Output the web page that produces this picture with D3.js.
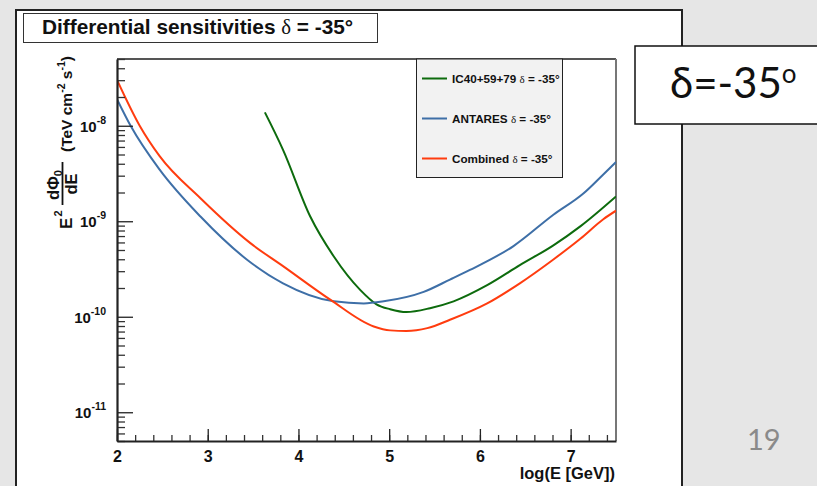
<!DOCTYPE html>
<html><head><meta charset="utf-8">
<script src="https://cdn.jsdelivr.net/npm/d3@7"></script>
<style>html,body{margin:0;padding:0;background:#e6e6e6;} svg{display:block}</style>
</head><body>
<svg id="c" width="817" height="486"></svg>
<script>
// ---- data ----
const titleText = "Differential sensitivities";
const seriesNames = ["IC40+59+79", "ANTARES", "Combined"];
const xTickLabels = [2, 3, 4, 5, 6, 7];
const yDecades = [-8, -9, -10, -11];

const icE = [3.63, 3.83, 4.13, 4.39, 4.68, 4.86, 5.01, 5.19, 5.45, 5.71, 6.08, 6.44, 6.81, 7.11, 7.50];
const icFlux = [1.38e-8, 5.6e-9, 1.12e-9, 4.27e-10, 1.91e-10, 1.35e-10, 1.2e-10, 1.12e-10, 1.23e-10, 1.45e-10, 2.14e-10, 3.47e-10, 5.6e-10, 8.9e-10, 1.82e-9];

const antE = [2.00, 2.15, 2.47, 2.92, 3.43, 3.83, 4.39, 4.72, 4.94, 5.38, 5.67, 5.89, 6.37, 6.81, 7.14, 7.36, 7.50];
const antFlux = [1.9e-8, 1.0e-8, 3.47e-9, 1.12e-9, 3.98e-10, 2.24e-10, 1.45e-10, 1.38e-10, 1.45e-10, 1.82e-10, 2.45e-10, 3.09e-10, 5.5e-10, 1.17e-9, 1.95e-9, 3.09e-9, 4.17e-9];

const combE = [2.00, 2.25, 2.47, 2.92, 3.47, 3.83, 4.35, 4.83, 5.01, 5.19, 5.42, 5.67, 6.08, 6.44, 6.81, 7.11, 7.36, 7.50];
const combFlux = [3.02e-8, 1.0e-8, 4.8e-9, 1.74e-9, 5.9e-10, 3.39e-10, 1.51e-10, 7.9e-11, 7.2e-11, 7.1e-11, 7.6e-11, 9.3e-11, 1.38e-10, 2.24e-10, 3.98e-10, 6.6e-10, 1.05e-9, 1.29e-9];

const colors = ["#0d6b0d", "#3e6fa7", "#ff3c0f"];

// ---- drawing ----
const svg = d3.select("#c");
const sans = "'Liberation Sans', Arial, Helvetica, sans-serif";
const serif = "'Liberation Serif', 'DejaVu Serif', serif";

svg.append("rect").attr("width", 817).attr("height", 486).attr("fill", "#e6e6e6");
// ROOT canvas
svg.append("rect").attr("x", 16).attr("y", 10).attr("width", 666).attr("height", 500)
  .attr("fill", "#fff").attr("stroke", "#222").attr("stroke-width", 2);

const L = 117, R = 616, T = 59, B = 441;
const x = d3.scaleLinear().domain([2, 7.5]).range([L, R]);
const y = d3.scaleLog().domain([5e-12, 5e-8]).range([B, T]);

// frame top/right
svg.append("line").attr("x1", L).attr("x2", R).attr("y1", T).attr("y2", T).attr("stroke", "#555").attr("stroke-width", 2);
svg.append("line").attr("x1", R).attr("x2", R).attr("y1", T).attr("y2", B).attr("stroke", "#777").attr("stroke-width", 2);

// clip
svg.append("clipPath").attr("id", "clip").append("rect").attr("x", L).attr("y", T).attr("width", R - L).attr("height", B - T);

// curves
const line = d3.line().x(d => x(d[0])).y(d => y(d[1])).curve(d3.curveMonotoneX);
const sets = [[icE, icFlux], [antE, antFlux], [combE, combFlux]];
sets.forEach((s, i) => {
  svg.append("path").attr("clip-path", "url(#clip)")
    .attr("d", line(s[0].map((e, k) => [e, s[1][k]])))
    .attr("fill", "none").attr("stroke", colors[i]).attr("stroke-width", 2);
});

// y axis minor ticks
const minorY = [];
for (let p = -12; p <= -8; p++) for (let m = 2; m <= 9; m++) {
  const v = m * Math.pow(10, p);
  if (v >= 5e-12 && v <= 5e-8) minorY.push(v);
}
svg.append("g").attr("transform", `translate(${L},0)`)
  .call(d3.axisLeft(y).tickValues(minorY).tickSize(-8).tickSizeOuter(0).tickFormat(() => ""))
  .call(g => g.select(".domain").remove())
  .call(g => g.selectAll("line").attr("stroke", "#333").attr("stroke-width", 1.3));
const yMaj = svg.append("g").attr("transform", `translate(${L},0)`)
  .call(d3.axisLeft(y).tickValues(yDecades.map(p => Math.pow(10, p))).tickSize(-16).tickSizeOuter(0).tickPadding(11).tickFormat(() => ""));
yMaj.select(".domain").attr("stroke", "#222").attr("stroke-width", 2.2);
yMaj.selectAll("line").attr("stroke", "#222").attr("stroke-width", 1.3);
yMaj.selectAll(".tick text").each(function(d) {
  const t = d3.select(this).attr("dy", null).attr("y", 5.5)
    .attr("font-family", sans).attr("font-weight", "bold").attr("font-size", 15).attr("fill", "#111");
  t.text("");
  t.append("tspan").text("10");
  t.append("tspan").attr("dy", -8).attr("font-size", 10.5).text(String(Math.round(Math.log10(d))));
});

// x axis
const minorX = d3.range(2, 7.5001, 0.2).map(v => +v.toFixed(2));
svg.append("g").attr("transform", `translate(0,${B})`)
  .call(d3.axisBottom(x).tickValues(minorX).tickSize(-6).tickSizeOuter(0).tickFormat(() => ""))
  .call(g => g.select(".domain").remove())
  .call(g => g.selectAll("line").attr("stroke", "#333").attr("stroke-width", 1.3));
const xMaj = svg.append("g").attr("transform", `translate(0,${B})`)
  .call(d3.axisBottom(x).tickValues(xTickLabels).tickSize(-12).tickSizeOuter(0).tickPadding(10).tickFormat(d3.format("d")));
xMaj.select(".domain").attr("stroke", "#222").attr("stroke-width", 2.2);
xMaj.selectAll("line").attr("stroke", "#222").attr("stroke-width", 1.3);
xMaj.selectAll("text").attr("font-family", sans).attr("font-weight", "bold").attr("font-size", 16).attr("fill", "#111").attr("dy", "0.71em");

// x title
svg.append("text").attr("x", R - 1).attr("y", 479).attr("text-anchor", "end")
  .attr("font-family", sans).attr("font-weight", "bold").attr("font-size", 16.5).attr("fill", "#111")
  .text("log(E [GeV])");

// y title
const yt = svg.append("g").attr("transform", "translate(72,229) rotate(-90)")
  .attr("font-family", sans).attr("font-weight", "bold").attr("fill", "#111");
yt.append("text").attr("x", 0).attr("y", 0).attr("font-size", 17).text("E");
yt.append("text").attr("x", 12.5).attr("y", -10).attr("font-size", 11).text("2");
const fn = yt.append("text").attr("x", 44).attr("y", -13).attr("text-anchor", "middle").attr("font-size", 16.5);
fn.append("tspan").text("d\u03a6");
fn.append("tspan").attr("dy", 3).attr("font-size", 11).text("0");
yt.append("line").attr("x1", 24).attr("x2", 67).attr("y1", -9.5).attr("y2", -9.5).attr("stroke", "#111").attr("stroke-width", 1.8);
yt.append("text").attr("x", 45).attr("y", 4.5).attr("text-anchor", "middle").attr("font-size", 16.5).text("dE");
const pu = yt.append("text").attr("x", 77).attr("y", 0).attr("font-size", 15.5);
pu.append("tspan").text("(TeV cm");
pu.append("tspan").attr("dy", -7).attr("font-size", 10.5).text("-2");
pu.append("tspan").attr("dy", 7).text(" s");
pu.append("tspan").attr("dy", -7).attr("font-size", 10.5).text("-1");
pu.append("tspan").attr("dy", 7).text(")");

// title box
svg.append("rect").attr("x", 23.5).attr("y", 13.5).attr("width", 354).attr("height", 29)
  .attr("fill", "#fff").attr("stroke", "#333").attr("stroke-width", 1);
const tt = svg.append("text").attr("x", 42).attr("y", 33.5).attr("font-family", sans).attr("font-size", 20.8).attr("fill", "#111");
tt.append("tspan").attr("font-weight", "bold").text(titleText + " ");
tt.append("tspan").attr("font-family", serif).attr("font-weight", "normal").text("\u03b4");
tt.append("tspan").attr("font-weight", "bold").text(" = -35\u00b0");

// legend
svg.append("rect").attr("x", 416.5).attr("y", 59).attr("width", 146).attr("height", 118.5)
  .attr("fill", "#f2f2f2").attr("stroke", "#222").attr("stroke-width", 1);
const rows = [78.5, 118.5, 158.5];
seriesNames.forEach((n, i) => {
  svg.append("line").attr("x1", 422).attr("x2", 447).attr("y1", rows[i]).attr("y2", rows[i])
    .attr("stroke", colors[i]).attr("stroke-width", 2);
  const lt = svg.append("text").attr("x", 452).attr("y", rows[i] + 4).attr("font-family", sans).attr("font-size", 11.7).attr("fill", "#111");
  lt.append("tspan").attr("font-weight", "bold").text(n + " ");
  lt.append("tspan").attr("font-family", serif).attr("font-weight", "normal").attr("font-size", 11).text("\u03b4");
  lt.append("tspan").attr("font-weight", "bold").text(" = -35\u00b0");
});

// slide annotation box
svg.append("rect").attr("x", 635).attr("y", 46).attr("width", 190).attr("height", 78)
  .attr("fill", "#fff").attr("stroke", "#111").attr("stroke-width", 1.5);
const bt = svg.append("text").attr("x", 670).attr("y", 98).attr("font-family", "Lato, 'Open Sans', sans-serif")
  .attr("font-size", 42).attr("fill", "#111");
bt.append("tspan").text("\u03b4=-35");
bt.append("tspan").attr("dy", -15).attr("font-size", 26).text("o");

// page number
svg.append("text").attr("x", 747).attr("y", 450).attr("font-family", "Lato, 'Open Sans', sans-serif")
  .attr("font-size", 29).attr("fill", "#8a8a8a").text("19");
</script>
</body></html>
